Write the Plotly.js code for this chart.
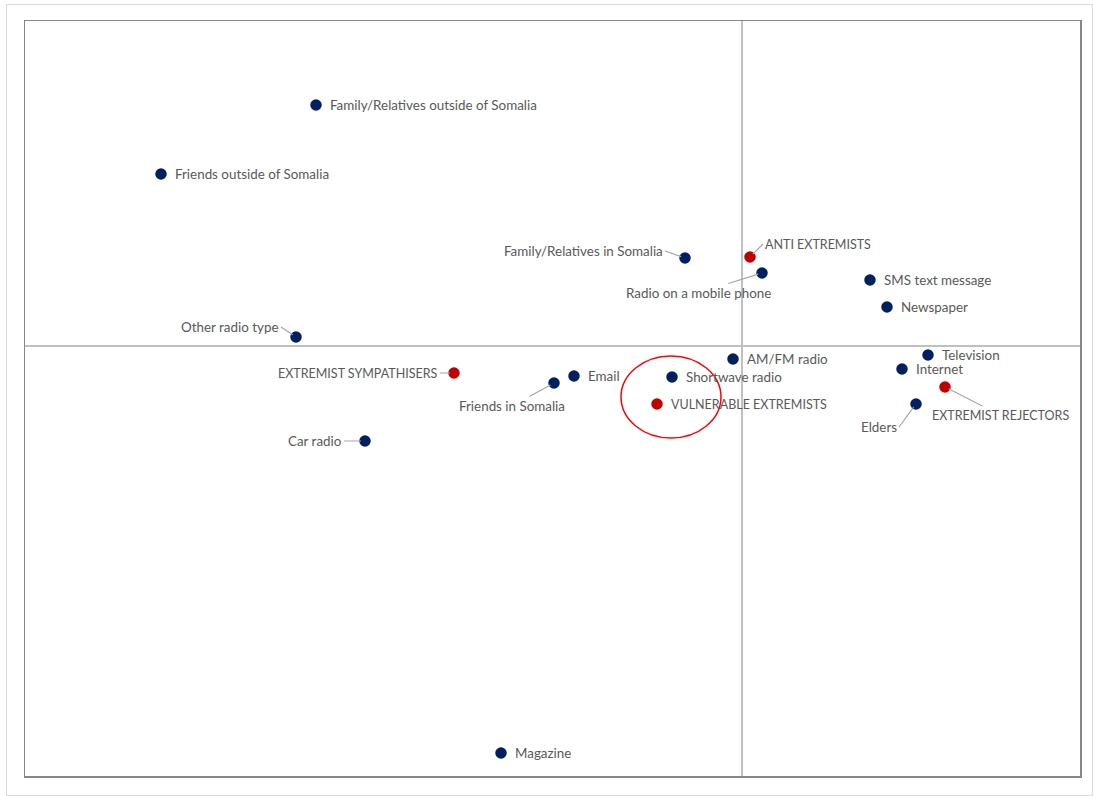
<!DOCTYPE html>
<html>
<head>
<meta charset="utf-8">
<script src="https://cdn.plot.ly/plotly-3.0.1.min.js"></script>
<style>
html,body{margin:0;padding:0;background:#fff;}
#wrap{position:relative;width:1093px;height:796px;}
#chart{width:1093px;height:796px;}
#frame{position:absolute;left:6px;top:4px;width:1085px;height:790px;border:1px solid #d9d9d9;pointer-events:none;}
</style>
</head>
<body>
<div id="wrap"><div id="chart"></div><div id="frame"></div></div>
<script>
// Media channels (navy)
const mediaLabels = ["Family/Relatives outside of Somalia","Friends outside of Somalia","Family/Relatives in Somalia","Radio on a mobile phone","SMS text message","Newspaper","Other radio type","AM/FM radio","Television","Internet","Elders","Email","Friends in Somalia","Shortwave radio","Car radio","Magazine"];
const mediaX = [-4.26,-5.81,-0.57,0.20,1.28,1.45,-4.46,-0.09,1.86,1.60,1.74,-1.68,-1.88,-0.70,-3.77,-2.41];
const mediaY = [2.41,1.72,0.88,0.73,0.66,0.39,0.09,-0.13,-0.09,-0.23,-0.58,-0.30,-0.37,-0.31,-0.95,-4.07];

// Segments (red)
const segLabels = ["ANTI EXTREMISTS","EXTREMIST REJECTORS","EXTREMIST SYMPATHISERS","VULNERABLE EXTREMISTS"];
const segX = [0.08,2.03,-2.88,-0.85];
const segY = [0.89,-0.41,-0.27,-0.58];

// Label placement: [dx, dy, anchor, leader]
const place = {
 "Family/Relatives outside of Somalia":[12,0,"left",false],
 "Friends outside of Somalia":[12,0,"left",false],
 "Family/Relatives in Somalia":[-20,-7,"right",true],
 "Radio on a mobile phone":[-64,20,"center",true],
 "SMS text message":[12,0,"left",false],
 "Newspaper":[12,0,"left",false],
 "Other radio type":[-15,-10,"right",true],
 "AM/FM radio":[12,0,"left",false],
 "Television":[12,0,"left",false],
 "Internet":[12,0,"left",false],
 "Elders":[-17,23,"right",true],
 "Email":[12,0,"left",false],
 "Friends in Somalia":[-42,23,"center",true],
 "Shortwave radio":[12,0,"left",false],
 "Car radio":[-21,0,"right",true],
 "Magazine":[12,0,"left",false],
 "ANTI EXTREMISTS":[13,-13,"left",true],
 "EXTREMIST REJECTORS":[55,28,"center",true],
 "EXTREMIST SYMPATHISERS":[-14,0,"right",true],
 "VULNERABLE EXTREMISTS":[12,0,"left",false]
};

const font = {family:"Lato, 'Liberation Sans', sans-serif", size:13.4, color:"#595959"};
const capsFont = {family:"Lato, 'Liberation Sans', sans-serif", size:12.5, color:"#595959"};
const annotations = [];
function addLabels(labels, xs, ys, f){
  labels.forEach((t,i)=>{
    const p = place[t];
    if(p[3]){
      annotations.push({x:xs[i], y:ys[i], xref:"x", yref:"y", text:t, showarrow:true,
        ax:p[0], ay:p[1], xanchor:p[2], yanchor:"middle", arrowhead:0, arrowwidth:1.2,
        arrowcolor:"#a6a6a6", standoff:4, font:f});
    } else {
      annotations.push({x:xs[i], y:ys[i], xref:"x", yref:"y", text:t, showarrow:false,
        xanchor:"left", yanchor:"middle", xshift:p[0], yshift:-p[1], font:f});
    }
  });
}
addLabels(mediaLabels, mediaX, mediaY, font);
addLabels(segLabels, segX, segY, capsFont);

const traces = [
 {x:mediaX, y:mediaY, mode:"markers", type:"scatter", marker:{size:11.5, color:"#002060"}, hoverinfo:"text", text:mediaLabels},
 {x:segX, y:segY, mode:"markers", type:"scatter", marker:{size:11.5, color:"#C00000"}, hoverinfo:"text", text:segLabels}
];

const layout = {
  width:1093, height:796,
  margin:{l:25, r:13, t:21, b:20},
  paper_bgcolor:"#ffffff", plot_bgcolor:"#ffffff",
  showlegend:false,
  xaxis:{range:[-7.17,3.38], showgrid:false, showticklabels:false, ticks:"",
    zeroline:true, zerolinecolor:"#c0c0c0", zerolinewidth:1.5,
    showline:true, mirror:true, linecolor:"#878787", linewidth:1.5},
  yaxis:{range:[-4.30,3.25], showgrid:false, showticklabels:false, ticks:"",
    zeroline:true, zerolinecolor:"#c0c0c0", zerolinewidth:1.5,
    showline:true, mirror:true, linecolor:"#878787", linewidth:1.5},
  shapes:[{type:"circle", xref:"x", yref:"y", x0:-1.21, x1:-0.21, y0:-0.10, y1:-0.92,
    line:{color:"#ff0000", width:1.5}}],
  annotations:annotations
};
Plotly.newPlot("chart", traces, layout, {displayModeBar:false, staticPlot:true});
</script>
</body>
</html>
